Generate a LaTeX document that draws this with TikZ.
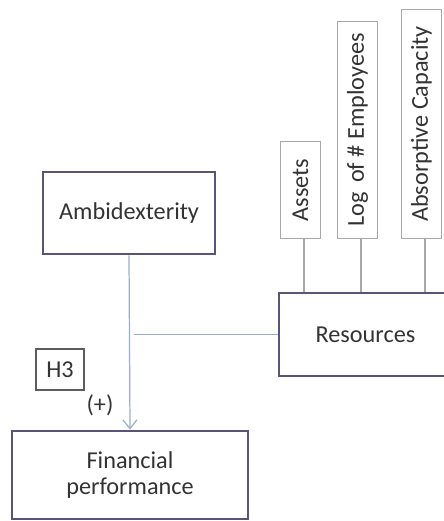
\documentclass[tikz,border=0pt]{standalone}
\usepackage{fontspec}
\setmainfont{Carlito}
\usetikzlibrary{arrows.meta,positioning,calc}
\definecolor{boxline}{HTML}{5B5377}
\definecolor{linkline}{HTML}{9AAECB}
\definecolor{ctrlline}{HTML}{A8A8A8}
\definecolor{txt}{HTML}{333333}

\begin{document}
\begin{tikzpicture}[
  mainbox/.style={draw=boxline, line width=1.6pt, fill=white, text=txt, font=\fontsize{13.8}{16}\selectfont, align=center, inner sep=0pt},
  ctrlbox/.style={draw=ctrlline, line width=0.6pt, rotate=90, anchor=west, minimum height=0.8cm, text=txt, font=\fontsize{13.8}{16}\selectfont, inner sep=0pt},
  link/.style={draw=linkline, line width=0.7pt}
]
  \useasboundingbox (0,0) rectangle (8.86,10.42);
  % main constructs
  \node[mainbox, minimum width=3.44cm, minimum height=1.64cm] (amb) at (2.58,6.16) {Ambidexterity};
  \node[mainbox, minimum width=4.72cm, minimum height=1.76cm] (fin) at (2.6,0.92) {Financial\\[-1pt]performance};
  \node[mainbox, minimum width=3.46cm, minimum height=1.66cm] (res) at (7.31,3.73) {Resources};
  % control variables
  \node[ctrlbox, minimum width=1.94cm] (assets) at (6.01,5.64) {Assets};
  \node[ctrlbox, minimum width=4.34cm] (logemp) at (7.15,5.64) {Log\,\ of \# Employees};
  \node[ctrlbox, minimum width=4.58cm] (abscap) at (8.43,5.64) {Absorptive Capacity};
  % hypothesis label
  \node[draw=txt!80, line width=0.6pt, minimum width=0.96cm, minimum height=0.82cm, inner sep=0pt, text=txt, font=\fontsize{13.8}{16}\selectfont] (hyp) at (1.2,3.03) {H3};
  \node[text=txt, font=\fontsize{13.8}{16}\selectfont, inner sep=0pt] (sign) at (2.0,2.32) {(+)};
  % connectors
  \draw[link, -{Straight Barb[length=5pt, width=8pt]}] (amb.south) -- (fin.north);
  \coordinate (meet) at ([xshift=0.1cm]amb.south |- res.west);
  \draw[link] (res.west) -- (meet);
  \foreach \c in {assets,logemp,abscap}
    \draw[draw=ctrlline, line width=0.6pt] ([xshift=0.07cm]\c.west) -- ([xshift=0.07cm]\c.west |- res.north);
\end{tikzpicture}
\end{document}
